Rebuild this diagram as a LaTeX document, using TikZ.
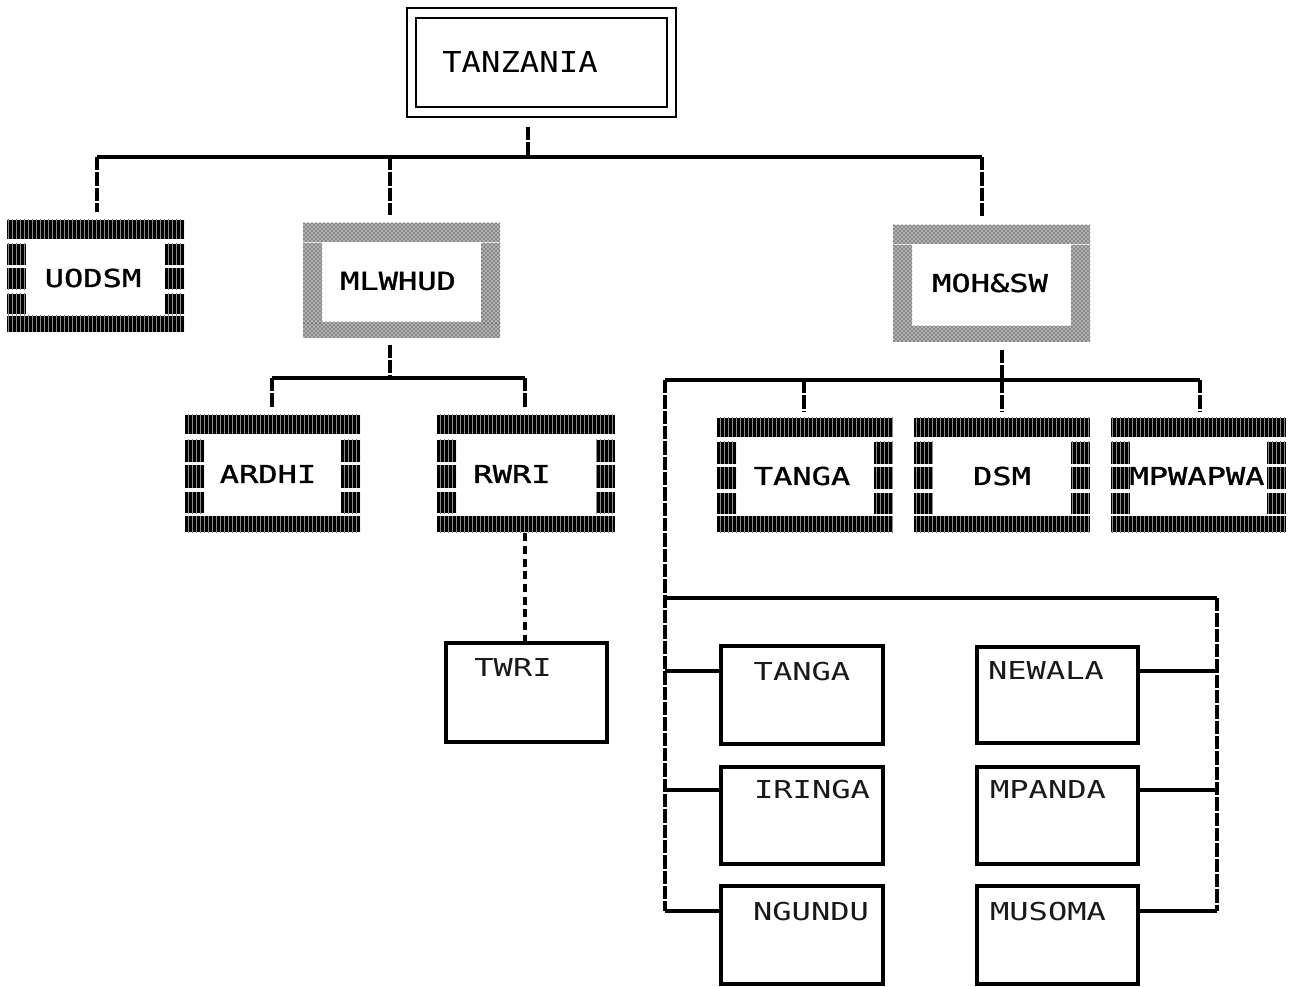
\documentclass[tikz,border=0pt]{standalone}
\usepackage{fontspec}
\usetikzlibrary{calc,fit,patterns}
\newfontfamily\labfont[FakeStretch=1.3,FakeBold=1.2]{DejaVu Sans Mono}
\newfontfamily\sublabfont[FakeStretch=1.3]{DejaVu Sans Mono}
\newfontfamily\bigfont[FakeStretch=1.12]{DejaVu Sans Mono}
\tikzset{
  box/.style={inner sep=0pt, outer sep=0pt},
  thinbox/.style={box, draw=black, line width=2.6pt},
  titlebox/.style={box, draw=black, line width=1.6pt},
  lab/.style={font=\labfont\fontsize{18.5pt}{20pt}\selectfont, inner sep=0pt},
  sublab/.style={font=\sublabfont\fontsize{18.5pt}{20pt}\selectfont, inner sep=0pt, text=black!90},
  biglab/.style={font=\bigfont\fontsize{21.6pt}{24pt}\selectfont, inner sep=0pt},
  bus/.style={line width=3.6pt, black},
  vbus/.style={bus, dash pattern=on 10pt off 1.5pt},
  conn/.style={line width=3pt, black},
  dashlink/.style={line width=2.4pt, black, dash pattern=on 6pt off 3.5pt},
  darkfill/.style={fill=black, postaction={pattern=vertical lines, pattern color=black!45}},
  grayfill/.style={fill=black!30, postaction={pattern=crosshatch dots, pattern color=black}},
}
% dark patterned frame: top, bottom, three segments per side
\newcommand\dfr[2]{%
  \fill[#2] (#1.north west) rectangle ($(#1.north east)+(0,19)$);
  \fill[#2] ($(#1.south west)+(0,-16)$) rectangle (#1.south east);
  \foreach \a/\b in {0.21/0.40,0.43/0.62,0.66/0.84}{%
    \fill[#2] ($(#1.north west)!\a!(#1.south west)$) rectangle ($(#1.north west)!\b!(#1.south west)+(19,0)$);
    \fill[#2] ($(#1.north east)!\a!(#1.south east)$) rectangle ($(#1.north east)!\b!(#1.south east)+(-19,0)$);
  }}
% gray patterned frame
\newcommand\gfr[2]{%
  \fill[#2] (#1.north west) rectangle ($(#1.north east)+(0,19)$);
  \fill[#2] ($(#1.south west)+(0,-16)$) rectangle (#1.south east);
  \fill[#2] ($(#1.north west)!0.17!(#1.south west)$) rectangle ($(#1.north west)!0.87!(#1.south west)+(19,0)$);
  \fill[#2] ($(#1.north east)!0.17!(#1.south east)$) rectangle ($(#1.north east)!0.87!(#1.south east)+(-19,0)$);
}
\begin{document}
\begin{tikzpicture}[x=0.75pt,y=-0.75pt]
\useasboundingbox[fill=white] (0,0) rectangle (1289,987);

% ---- title
\node[titlebox, fit={(407,8) (676,117)}] (tanz) {};
\node[titlebox, fit={(416,18) (667,107)}] (tanzin) {};
\node[biglab] (tanzt) at (520,62) {TANZANIA};

% ---- level 1 boxes
\node[box, fit={(7,220) (184,332)}] (uodsm) {};
\dfr{uodsm}{darkfill}
\node[lab] (uodsmt) at (93,278) {UODSM};

\node[box, fit={(303,223) (500,338)}] (mlw) {};
\gfr{mlw}{grayfill}
\node[lab] (mlwt) at (398,281) {MLWHUD};

\node[box, fit={(893,225) (1090,342)}] (moh) {};
\gfr{moh}{grayfill}
\node[lab] (moht) at (990,283) {MOH\&SW};

% ---- level 2 boxes
\node[box, fit={(185,415) (360,532)}] (ardhi) {};
\dfr{ardhi}{darkfill}
\node[lab] (ardhit) at (268,474) {ARDHI};

\node[box, fit={(437,415) (615,532)}] (rwri) {};
\dfr{rwri}{darkfill}
\node[lab] (rwrit) at (512,474) {RWRI};

\node[box, fit={(717,418) (893,532)}] (tanga) {};
\dfr{tanga}{darkfill}
\node[lab] (tangat) at (802,476) {TANGA};

\node[box, fit={(914,418) (1090,532)}] (dsm) {};
\dfr{dsm}{darkfill}
\node[lab] (dsmt) at (1002,476) {DSM};

\node[box, fit={(1111,418) (1286,532)}] (mpw) {};
\dfr{mpw}{darkfill}
\node[lab] (mpwt) at (1197,476) {MPWAPWA};

% ---- thin boxes
\node[thinbox, fit={(446,643) (607,742)}] (twri) {};
\node[sublab] (twrit) at (513,668) {TWRI};

\node[thinbox, fit={(721,646) (883,744)}] (tang2) {};
\node[sublab] (tang2t) at (802,672) {TANGA};
\node[thinbox, fit={(721,767) (883,864)}] (iri) {};
\node[sublab] (irit) at (812,790) {IRINGA};
\node[thinbox, fit={(721,886) (883,984)}] (ngu) {};
\node[sublab] (ngut) at (811,912) {NGUNDU};

\node[thinbox, fit={(977,647) (1138,743)}] (new) {};
\node[sublab] (newt) at (1046,671) {NEWALA};
\node[thinbox, fit={(977,767) (1138,864)}] (mpa) {};
\node[sublab] (mpat) at (1048,790) {MPANDA};
\node[thinbox, fit={(977,886) (1138,984)}] (mus) {};
\node[sublab] (must) at (1048,912) {MUSOMA};

% ---- helper coordinates
\coordinate (b1) at (528,157);
\coordinate (x1) at (97,0);
\coordinate (x2) at (390,0);
\coordinate (x3) at (982,0);
\coordinate (b2) at (390,378);
\coordinate (x4) at (272,0);
\coordinate (x5) at (525,0);
\coordinate (b3) at (1002,380);
\coordinate (xl) at (665,0);
\coordinate (x6) at (804,0);
\coordinate (x7) at (1200,0);
\coordinate (xr) at (1217,0);
\coordinate (b4) at (665,598);
\coordinate (c1) at (0,671);
\coordinate (c2) at (0,790);
\coordinate (c3) at (0,911);

% ---- connectors, level 1
\draw[vbus, shorten <=7.5pt] (b1 |- tanz.south) -- (b1);
\draw[bus] (x1 |- b1) -- (x3 |- b1);
\draw[vbus, shorten >=6pt] (x1 |- b1) -- (x1 |- uodsm.north);
\draw[vbus, shorten >=6pt] (x2 |- b1) -- (x2 |- mlw.north);
\draw[vbus, shorten >=6pt] (x3 |- b1) -- (x3 |- moh.north);

% ---- connectors under MLWHUD
\draw[vbus, shorten <=5pt] (b2 |- mlw.south) -- (b2);
\draw[bus] (x4 |- b2) -- (x5 |- b2);
\draw[vbus, shorten >=5pt] (x4 |- b2) -- (x4 |- ardhi.north);
\draw[vbus, shorten >=5pt] (x5 |- b2) -- (x5 |- rwri.north);
\draw[dashlink, shorten <=1pt, shorten >=1pt] (x5 |- rwri.south) -- (x5 |- twri.north);

% ---- connectors under MOH&SW
\draw[vbus, shorten <=6pt] (b3 |- moh.south) -- (b3);
\draw[bus] (xl |- b3) -- (x7 |- b3);
\draw[vbus, shorten >=5pt] (x6 |- b3) -- (x6 |- tanga.north);
\draw[vbus, shorten >=5pt] (b3) -- (b3 |- dsm.north);
\draw[vbus, shorten >=5pt] (x7 |- b3) -- (x7 |- mpw.north);

% ---- regional tree
\draw[vbus] (xl |- b3) -- (xl |- c3);
\draw[conn] (xl |- c3) -- (ngu.west |- c3);
\draw[conn] (xl |- c1) -- (tang2.west |- c1);
\draw[conn] (xl |- c2) -- (iri.west |- c2);
\draw[bus] (b4) -- (xr |- b4);
\draw[vbus] (xr |- b4) -- (xr |- c3);
\draw[conn] (xr |- c1) -- (new.east |- c1);
\draw[conn] (xr |- c2) -- (mpa.east |- c2);
\draw[conn] (xr |- c3) -- (mus.east |- c3);
\end{tikzpicture}
\end{document}
